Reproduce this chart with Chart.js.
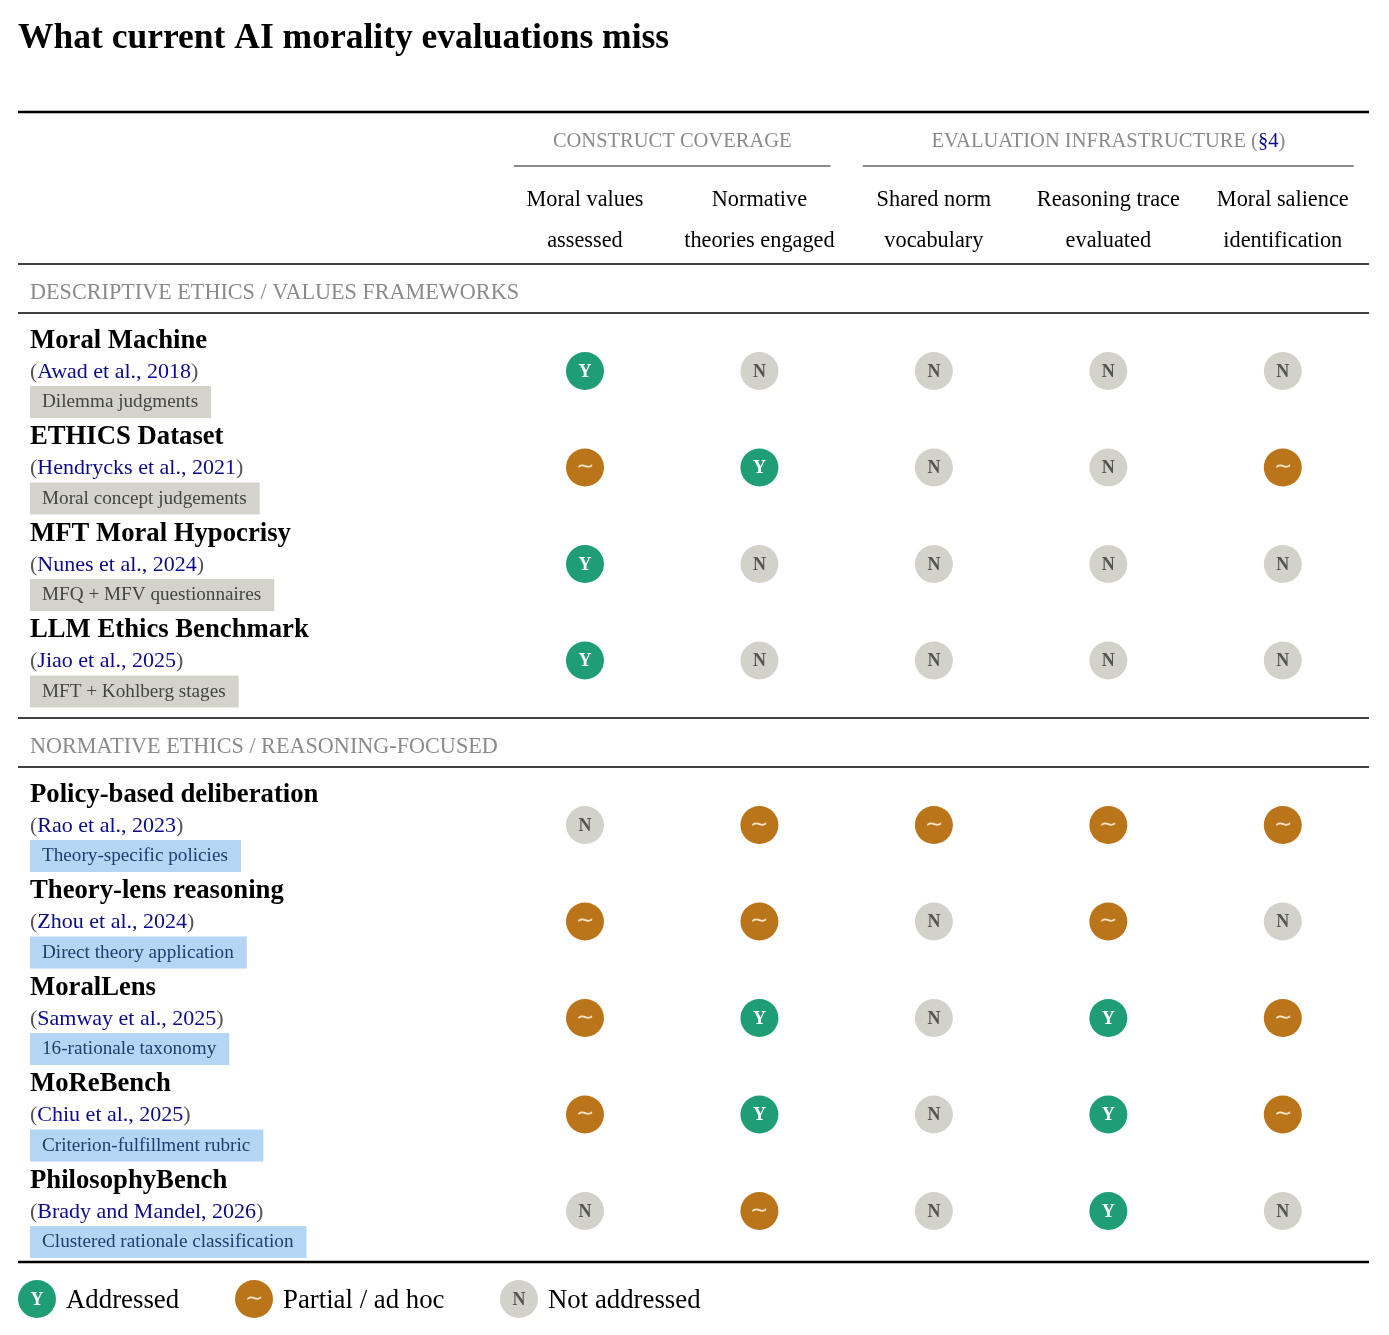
<!DOCTYPE html>
<html>
<head>
<meta charset="utf-8">
<script src="https://cdn.jsdelivr.net/npm/chart.js@4.4.1/dist/chart.umd.min.js"></script>
<style>body{margin:0;background:#fff}</style>
</head>
<body>
<canvas id="evals" width="1389" height="1335"></canvas>
<script>
const title = 'What current AI morality evaluations miss';

const columns = [
  ['Moral values', 'assessed'],
  ['Normative', 'theories engaged'],
  ['Shared norm', 'vocabulary'],
  ['Reasoning trace', 'evaluated'],
  ['Moral salience', 'identification'],
];
const groupNames = ['CONSTRUCT COVERAGE', 'EVALUATION INFRASTRUCTURE'];
const groupRef = ['', '§4'];
const groupCols = [[0, 1], [2, 4]];

const sectionNames = ['DESCRIPTIVE ETHICS / VALUES FRAMEWORKS', 'NORMATIVE ETHICS / REASONING-FOCUSED'];

const benchmarks = ['Moral Machine', 'ETHICS Dataset', 'MFT Moral Hypocrisy', 'LLM Ethics Benchmark',
  'Policy-based deliberation', 'Theory-lens reasoning', 'MoralLens', 'MoReBench', 'PhilosophyBench'];
const citations = ['Awad et al., 2018', 'Hendrycks et al., 2021', 'Nunes et al., 2024', 'Jiao et al., 2025',
  'Rao et al., 2023', 'Zhou et al., 2024', 'Samway et al., 2025', 'Chiu et al., 2025', 'Brady and Mandel, 2026'];
const tags = ['Dilemma judgments', 'Moral concept judgements', 'MFQ + MFV questionnaires', 'MFT + Kohlberg stages',
  'Theory-specific policies', 'Direct theory application', '16-rationale taxonomy', 'Criterion-fulfillment rubric',
  'Clustered rationale classification'];
const sections = [0, 0, 0, 0, 1, 1, 1, 1, 1];

// Y = addressed, P = partial / ad hoc, N = not addressed
const ratings = [
  ['Y', 'N', 'N', 'N', 'N'],
  ['P', 'Y', 'N', 'N', 'P'],
  ['Y', 'N', 'N', 'N', 'N'],
  ['Y', 'N', 'N', 'N', 'N'],
  ['N', 'P', 'P', 'P', 'P'],
  ['P', 'P', 'N', 'P', 'N'],
  ['P', 'Y', 'N', 'Y', 'P'],
  ['P', 'Y', 'N', 'Y', 'P'],
  ['N', 'P', 'N', 'Y', 'N'],
];

const statusKeys = ['Y', 'P', 'N'];
const statusLabels = ['Addressed', 'Partial / ad hoc', 'Not addressed'];
const statusGlyphs = ['Y', '∼', 'N'];
const statusFill = ['#1f9e75', '#ba7419', '#d2d2ca'];
const statusInk = ['#ffffff', '#f3e2c8', '#555550'];

const SECTION_GAP = 0.705;
const rowSlot = (i) => i + sections[i] * SECTION_GAP;

const SERIF = '"Liberation Serif", "Times New Roman", serif';
const GREY_TEXT = '#8a8a8a';
const NAVY = '#0a0a8c';

const datasets = statusKeys.map((key, k) => {
  const pts = [];
  ratings.forEach((row, i) => row.forEach((r, c) => {
    if (r === key) pts.push({ x: c, y: rowSlot(i) });
  }));
  return {
    label: statusLabels[k],
    data: pts,
    pointRadius: 19,
    pointBackgroundColor: statusFill[k],
    pointBorderWidth: 0,
    showLine: false,
  };
});

const txt = (ctx, s, x, y, font, color, align = 'left') => {
  ctx.font = font;
  ctx.fillStyle = color;
  ctx.textAlign = align;
  ctx.textBaseline = 'middle';
  ctx.fillText(s, x, y);
  return ctx.measureText(s).width;
};

const rule = (ctx, x1, x2, y, w, color = '#000') => {
  ctx.beginPath();
  ctx.strokeStyle = color;
  ctx.lineWidth = w;
  ctx.moveTo(x1, y);
  ctx.lineTo(x2, y);
  ctx.stroke();
};

const glyph = (ctx, k, x, y) => {
  if (statusKeys[k] === 'P') {
    txt(ctx, statusGlyphs[k], x, y, `22px ${SERIF}`, statusInk[k], 'center');
  } else {
    txt(ctx, statusGlyphs[k], x, y + 1, `bold 18px ${SERIF}`, statusInk[k], 'center');
  }
};

const tablePlugin = {
  id: 'tableText',
  afterDatasetsDraw(chart) {
    const ctx = chart.ctx;
    chart.data.datasets.forEach((ds, k) => {
      chart.getDatasetMeta(k).data.forEach((pt) => glyph(ctx, k, pt.x, pt.y));
    });
  },
  afterDraw(chart) {
    const ctx = chart.ctx;
    const xs = chart.scales.x;
    const ys = chart.scales.y;
    const L = 18;
    const R = chart.width - 20;
    ctx.save();

    txt(ctx, title, L, 39, `bold 35.5px ${SERIF}`, '#000');

    const firstCy = ys.getPixelForValue(rowSlot(0));
    const headBase = firstCy - 107;
    rule(ctx, L, R, headBase - 152, 2.5);
    const gFont = `20.5px ${SERIF}`;
    groupNames.forEach((g, gi) => {
      const x1 = xs.getPixelForValue(groupCols[gi][0]) - 71;
      const x2 = xs.getPixelForValue(groupCols[gi][1]) + 71;
      const cx = (x1 + x2) / 2;
      ctx.font = gFont;
      let full = g;
      if (groupRef[gi]) full += ' (' + groupRef[gi] + ')';
      let x = cx - ctx.measureText(full).width / 2;
      x += txt(ctx, g + (groupRef[gi] ? ' (' : ''), x, headBase - 122, gFont, GREY_TEXT);
      if (groupRef[gi]) {
        x += txt(ctx, groupRef[gi], x, headBase - 122, gFont, NAVY);
        txt(ctx, ')', x, headBase - 122, gFont, GREY_TEXT);
      }
      rule(ctx, x1, x2, headBase - 98, 2, '#8a8a8a');
    });
    columns.forEach((lines, c) => {
      const cx = xs.getPixelForValue(c);
      txt(ctx, lines[0], cx, headBase - 64, `22.3px ${SERIF}`, '#000', 'center');
      txt(ctx, lines[1], cx, headBase - 23, `22.3px ${SERIF}`, '#000', 'center');
    });

    sectionNames.forEach((name, s) => {
      const first = sections.indexOf(s);
      const cy0 = ys.getPixelForValue(rowSlot(first));
      rule(ctx, L, R, cy0 - 107, 1.5);
      txt(ctx, name, 30, cy0 - 78, `22.2px ${SERIF}`, GREY_TEXT);
      rule(ctx, L, R, cy0 - 58, 1.5);
    });

    benchmarks.forEach((name, i) => {
      const cy = ys.getPixelForValue(rowSlot(i));
      txt(ctx, name, 30, cy - 30, `bold 26.7px ${SERIF}`, '#000');
      let x = 30;
      x += txt(ctx, '(', x, cy + 1, `22px ${SERIF}`, '#555');
      x += txt(ctx, citations[i], x, cy + 1, `22px ${SERIF}`, NAVY);
      txt(ctx, ')', x, cy + 1, `22px ${SERIF}`, '#555');
      const tFont = `19.2px ${SERIF}`;
      ctx.font = tFont;
      const w = ctx.measureText(tags[i]).width + 25;
      ctx.fillStyle = sections[i] === 0 ? '#d3d3cb' : '#b4d5f3';
      ctx.fillRect(30, cy + 15, w, 32);
      txt(ctx, tags[i], 42, cy + 31, tFont, sections[i] === 0 ? '#444' : '#1d3f6e');
    });

    const lastCy = ys.getPixelForValue(rowSlot(benchmarks.length - 1));
    const bottom = lastCy + 51;
    rule(ctx, L, R, bottom, 2.5);
    const legendX = [37, 254, 519];
    statusKeys.forEach((k, j) => {
      const ly = bottom + 37;
      ctx.beginPath();
      ctx.fillStyle = statusFill[j];
      ctx.arc(legendX[j], ly, 19, 0, Math.PI * 2);
      ctx.fill();
      glyph(ctx, j, legendX[j], ly);
      txt(ctx, statusLabels[j], legendX[j] + 29, ly + 2, `26.8px ${SERIF}`, '#000');
    });
    ctx.restore();
  },
};

new Chart(document.getElementById('evals'), {
  type: 'scatter',
  data: { datasets },
  options: {
    responsive: false,
    animation: false,
    events: [],
    layout: { padding: { left: 497.75, right: 18.75, top: 274.5, bottom: 95.5 } },
    plugins: { legend: { display: false }, tooltip: { enabled: false } },
    scales: {
      x: { type: 'linear', min: -0.5, max: 4.5, display: false },
      y: { type: 'linear', min: -1, max: 9, reverse: true, display: false },
    },
  },
  plugins: [tablePlugin],
});
</script>
</body>
</html>
